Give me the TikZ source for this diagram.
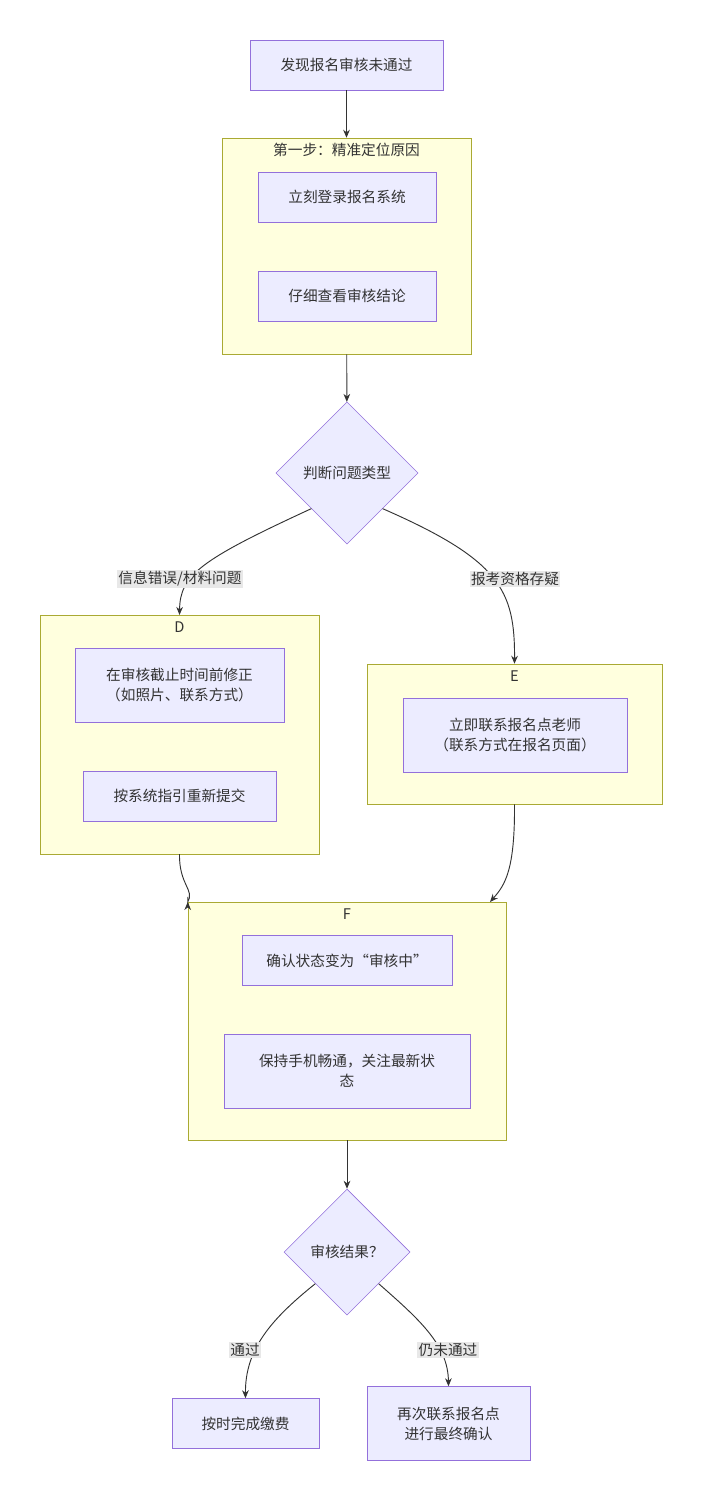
\documentclass[tikz,border=0pt]{standalone}
\usepackage{fontspec}
\setmainfont{Noto Sans CJK SC}
\usetikzlibrary{arrows.meta, shapes.geometric, positioning}
\definecolor{nodefill}{HTML}{ECECFF}
\definecolor{nodeline}{HTML}{9370DB}
\definecolor{clfill}{HTML}{FFFFDE}
\definecolor{clline}{HTML}{AAAA33}
\definecolor{edge}{HTML}{333333}
\definecolor{lblfill}{HTML}{E8E8E8}
\tikzset{
	box/.style={draw=nodeline, fill=nodefill, rectangle, align=center, font=\fontsize{11}{15}\selectfont, text=edge},
	dia/.style={draw=nodeline, fill=nodefill, diamond, inner sep=0pt, font=\fontsize{11}{15}\selectfont, text=edge},
	cluster/.style={draw=clline, fill=clfill, rectangle, inner sep=0pt},
	title/.style={font=\fontsize{11}{15}\selectfont, text=edge},
	lbl/.style={fill=lblfill, inner sep=1pt, font=\fontsize{11}{15}\selectfont, text=edge},
	arr/.style={draw=edge, line width=0.7pt, -{Stealth[length=6pt,width=5pt]}}
}
\begin{document}
	\begin{tikzpicture}[x=0.75pt, y=-0.75pt]
		\useasboundingbox (0,0) rectangle (702,1500);

		% Clusters
		\begin{scope}
			\node (step1) at (346.5,246) [cluster, minimum width=187pt, minimum height=162pt] {};
			\node (step1_title) at (346.5,150) [title] {第一步：精准定位原因};

			\node (D) at (179.5,734.5) [cluster, minimum width=209pt, minimum height=179pt] {};
			\node (D_title) at (179.5,627) [title] {D};

			\node (E) at (514.5,734) [cluster, minimum width=221pt, minimum height=105pt] {};
			\node (E_title) at (514.5,676) [title] {E};

			\node (F) at (347,1021) [cluster, minimum width=238.5pt, minimum height=178.5pt] {};
			\node (F_title) at (347,914) [title] {F};
		\end{scope}

		% Nodes
		\begin{scope}
			\node (found) at (346.5,65) [box, minimum width=144.75pt, minimum height=37.5pt] {发现报名审核未通过};
			\node (login) at (347,197) [box, minimum width=133.5pt, minimum height=37.5pt] {立刻登录报名系统};
			\node (check) at (347,296) [box, minimum width=133.5pt, minimum height=37.5pt] {仔细查看审核结论};
			\node (type) at (347,473) [dia, minimum width=106.5pt, minimum height=106.5pt] {判断问题类型};

			\node (fix) at (179.5,685) [box, minimum width=156.75pt, minimum height=55.5pt] {在审核截止时间前修正\\（如照片、联系方式）};
			\node (resubmit) at (179.5,796) [box, minimum width=144.75pt, minimum height=37.5pt] {按系统指引重新提交};

			\node (contact) at (515,735) [box, minimum width=168pt, minimum height=55.5pt] {立即联系报名点老师\\（联系方式在报名页面）};

			\node (status) at (347,960.5) [box, minimum width=157.5pt, minimum height=37.5pt] {确认状态变为“审核中”};
			\node (phone) at (347,1071) [box, minimum width=184.5pt, minimum height=55.5pt] {保持手机畅通，关注最新状\\态};

			\node (result) at (347,1252) [dia, minimum width=94.5pt, minimum height=94.5pt] {审核结果？};
			\node (pay) at (245.5,1423.5) [box, minimum width=110.25pt, minimum height=37.5pt] {按时完成缴费};
			\node (again) at (448.5,1423.5) [box, minimum width=122.25pt, minimum height=55.5pt] {再次联系报名点\\进行最终确认};
		\end{scope}

		% Edges
		\draw[arr] (found) -- (step1);
		\draw[arr] (step1) -- (type);
		\draw[arr] (type.south west) .. controls (200,560) and (180,575) .. (D.north);
		\draw[arr] (type.south east) .. controls (500,560) and (515,590) .. (E.north);
		\draw[arr] (D.south) .. controls (179,885) and (195,890) .. (205,902 -| F.north west) -- ++(0,0);
		\draw[arr] (E.south) .. controls (515,870) and (505,885) .. (490,902);
		\draw[arr] (F) -- (result);
		\draw[arr] (result.south west) .. controls (270,1320) and (245,1350) .. (pay.north);
		\draw[arr] (result.south east) .. controls (420,1320) and (448,1345) .. (again.north);

		% Labels
		\node (lbl_info) at (180,579) [lbl] {信息错误/材料问题};
		\node (lbl_qual) at (515,579) [lbl] {报考资格存疑};
		\node (lbl_pass) at (245,1350) [lbl] {通过};
		\node (lbl_fail) at (448,1350) [lbl] {仍未通过};
	\end{tikzpicture}
\end{document}
